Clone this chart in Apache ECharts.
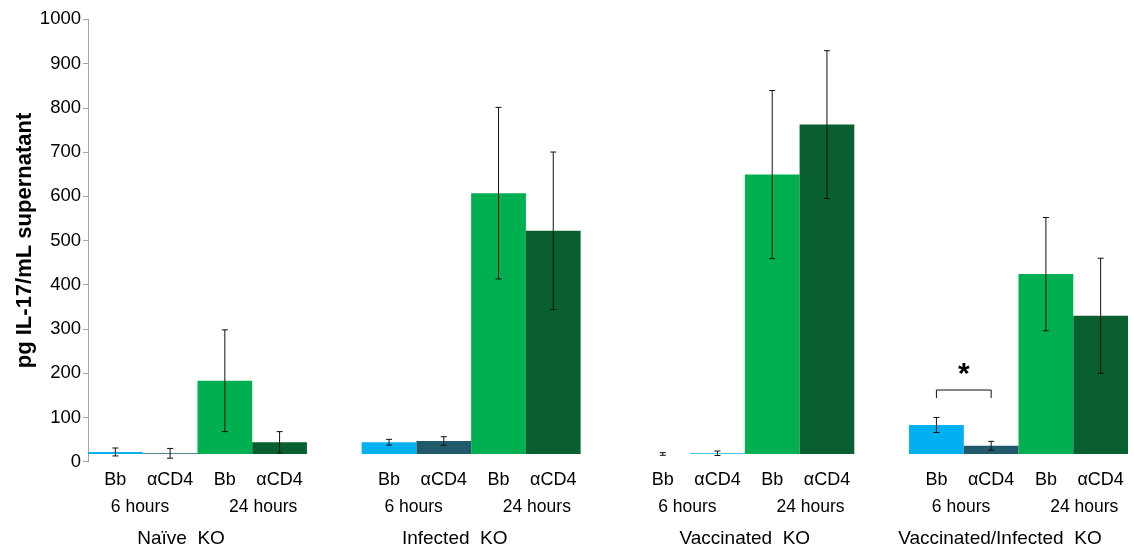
<!DOCTYPE html>
<html>
<head>
<meta charset="utf-8">
<script src="https://cdn.jsdelivr.net/npm/echarts@6/dist/echarts.min.js"></script>
<style>
  html, body { margin: 0; padding: 0; background: #fff; }
  #chart { width: 1134px; height: 545px; }
</style>
</head>
<body>
<div id="chart"></div>
<script>
// ---------------- data ----------------
const groups = ['Naïve  KO', 'Infected  KO', 'Vaccinated  KO', 'Vaccinated/Infected  KO'];
const conditions = ['Bb', 'αCD4', 'Bb', 'αCD4'];
const times = ['6 hours', '24 hours'];
const yTicks = [0, 100, 200, 300, 400, 500, 600, 700, 800, 900, 1000];

// means (pg/mL) per group
const bb6 = [22, 44, 17.5, 83];
const cd4_6 = [19, 47, 19, 36];
const bb24 = [183, 607, 649, 424];
const cd4_24 = [44, 522, 762, 330];
// error (SD) per group
const bb6Err = [9, 6.5, 3, 17];
const cd4_6Err = [11, 9.5, 5, 10];
const bb24Err = [115, 194, 190, 128];
const cd4_24Err = [24, 178, 167, 130];

// significance bracket: [group, condition a, condition b, value level]
const sigBrackets = [[3, 0, 1, 162]];

// value at which the category axis crosses (bars start here)
const axisCross = 17.5;

// ---------------- layout / style ----------------
const slotsPerGroup = 5;          // 4 bars + 1 gap slot
const nSlots = groups.length * slotsPerGroup - 1;
const colors = ['#00B0F0', '#215A6A', '#00B050', '#0A5F31'];
const font = '"Liberation Sans", Arial, sans-serif';
const hourShift = [0.95, 3.2];               // label centers (slots from group start)
const groupShift = [1.7, 1.7, 2.0, 1.66];

const seriesMeans = [bb6, cd4_6, bb24, cd4_24];
const seriesErrs = [bb6Err, cd4_6Err, bb24Err, cd4_24Err];

const slotLabels = [];
for (let s = 0; s < nSlots; s++) {
  const k = s % slotsPerGroup;
  slotLabels.push(k < 4 ? conditions[k] : '');
}

const hourLabelMap = {};
const hourPositions = [];
const groupLabelMap = {};
const groupPositions = [];
groups.forEach((g, gi) => {
  times.forEach((t, ti) => {
    const p = +(gi * slotsPerGroup + hourShift[ti]).toFixed(3);
    hourPositions.push(p); hourLabelMap[p] = t;
  });
  const gp = +(gi * slotsPerGroup + groupShift[gi]).toFixed(3);
  groupPositions.push(gp); groupLabelMap[gp] = g;
});

function barRender(params, api) {
  const x = api.value(0), v = api.value(1);
  const top = api.coord([x, v]);
  const base = api.coord([x, axisCross]);
  const w = api.size([1, 0])[0];
  return {
    type: 'rect',
    shape: { x: top[0] - w / 2, y: top[1], width: w, height: Math.max(0, base[1] - top[1]) },
    style: { fill: api.visual('color') }
  };
}

function errRender(params, api) {
  const x = api.value(0), m = api.value(1), e = api.value(2);
  const hi = api.coord([x, m + e]);
  const lo = api.coord([x, m - e]);
  const cap = 3;
  const st = { stroke: '#111', lineWidth: 1 };
  return {
    type: 'group',
    children: [
      { type: 'line', shape: { x1: hi[0], y1: hi[1], x2: lo[0], y2: lo[1] }, style: st },
      { type: 'line', shape: { x1: hi[0] - cap, y1: hi[1], x2: hi[0] + cap, y2: hi[1] }, style: st },
      { type: 'line', shape: { x1: lo[0] - cap, y1: lo[1], x2: lo[0] + cap, y2: lo[1] }, style: st }
    ]
  };
}

function sigRender(params, api) {
  const a = api.coord([api.value(0), api.value(2)]);
  const b = api.coord([api.value(1), api.value(2)]);
  const leg = 8;
  const st = { stroke: '#111', lineWidth: 1, fill: null };
  return {
    type: 'group',
    children: [
      { type: 'polyline', shape: { points: [[a[0], a[1] + leg], [a[0], a[1]], [b[0], a[1]], [b[0], b[1] + leg]] }, style: st },
      { type: 'text', style: { text: '*', x: (a[0] + b[0]) / 2, y: a[1] - 30, align: 'center', verticalAlign: 'top',
          font: 'bold 30px ' + font, fill: '#000' } }
    ]
  };
}

const series = [];
seriesMeans.forEach((arr, ci) => {
  series.push({
    type: 'custom',
    name: conditions[ci] + ' ' + times[ci < 2 ? 0 : 1],
    xAxisIndex: 0, yAxisIndex: 0,
    itemStyle: { color: colors[ci] },
    renderItem: barRender,
    data: arr.map((v, gi) => {
      const item = { value: [gi * slotsPerGroup + ci, v] };
      // in the reference, the Vaccinated 6 h αCD4 bar is drawn in light blue
      if (ci === 1 && gi === 2) item.itemStyle = { color: colors[0] };
      return item;
    }),
    z: 2
  });
});
series.push({
  type: 'custom',
  xAxisIndex: 0, yAxisIndex: 0,
  renderItem: errRender,
  data: seriesMeans.flatMap((arr, ci) => arr.map((v, gi) => [gi * slotsPerGroup + ci, v, seriesErrs[ci][gi]])),
  z: 5
});
series.push({
  type: 'custom',
  xAxisIndex: 0, yAxisIndex: 0,
  renderItem: sigRender,
  clip: false,
  data: sigBrackets.map(s => [s[0] * slotsPerGroup + s[1], s[0] * slotsPerGroup + s[2], s[3]]),
  z: 6
});

const hiddenAxisBits = {
  axisLine: { show: false }, axisTick: { show: false }, splitLine: { show: false }
};

const option = {
  animation: false,
  backgroundColor: '#fff',
  grid: { left: 88, right: 6, top: 19.3, bottom: 83.3, containLabel: false, outerBoundsMode: 'none' },
  xAxis: [
    {
      type: 'category', data: slotLabels, boundaryGap: true,
      axisLine: { show: false }, axisTick: { show: false },
      axisLabel: { interval: 0, fontSize: 18, color: '#000', fontFamily: font, margin: 9 }
    },
    Object.assign({
      type: 'value', min: 0, max: nSlots, position: 'bottom', offset: 36,
      axisLabel: { customValues: hourPositions, fontSize: 17.5, color: '#000', fontFamily: font, margin: 0,
        showMinLabel: true, showMaxLabel: true,
        formatter: v => hourLabelMap[+(+v).toFixed(3)] || '' }
    }, hiddenAxisBits),
    Object.assign({
      type: 'value', min: 0, max: nSlots, position: 'bottom', offset: 68,
      axisLabel: { customValues: groupPositions, fontSize: 19, color: '#000', fontFamily: font, margin: 0,
        showMinLabel: true, showMaxLabel: true,
        formatter: v => groupLabelMap[+(+v).toFixed(3)] || '' }
    }, hiddenAxisBits)
  ],
  yAxis: {
    type: 'value', min: yTicks[0], max: yTicks[yTicks.length - 1], interval: yTicks[1] - yTicks[0],
    name: 'pg IL-17/mL supernatant', nameLocation: 'middle', nameGap: 52, nameRotate: 90,
    nameMoveOverlap: false,
    nameTextStyle: { fontSize: 22, fontWeight: 'bold', color: '#000', fontFamily: font },
    axisLine: { show: true, lineStyle: { color: '#A6A6A6', width: 1 } },
    axisTick: { show: true, inside: false, length: 5, lineStyle: { color: '#A6A6A6' } },
    axisLabel: { fontSize: 18.5, color: '#000', fontFamily: font, margin: 7, formatter: v => String(v) },
    splitLine: { show: false }
  },
  series: series
};

const chart = echarts.init(document.getElementById('chart'), null, { renderer: 'canvas' });
chart.setOption(option);
</script>
</body>
</html>
